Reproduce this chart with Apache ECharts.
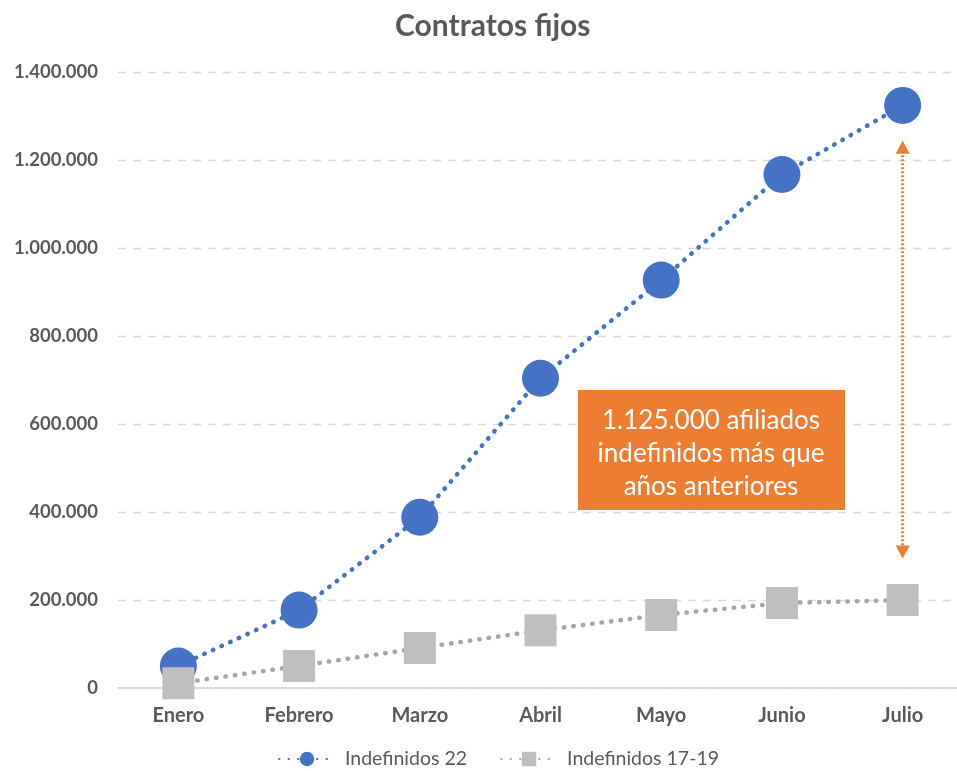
<!DOCTYPE html>
<html>
<head>
<meta charset="utf-8">
<script src="https://cdn.jsdelivr.net/npm/echarts@6/dist/echarts.min.js"></script>
<style>html,body{margin:0;padding:0;background:#fff;}#c{width:957px;height:771px;}</style>
</head>
<body>
<div id="c"></div>
<script>
const categories = ['Enero', 'Febrero', 'Marzo', 'Abril', 'Mayo', 'Junio', 'Julio'];
const indefinidos22 = [50000, 177000, 388000, 704000, 927000, 1167000, 1324000];
const indefinidos1719 = [11000, 50000, 91000, 131000, 166000, 193000, 200000];
const yTicks = [0, 200000, 400000, 600000, 800000, 1000000, 1200000, 1400000];
const arrowFrom = 1229000;
const arrowTo = 309000;
const noteLines = ['1.125.000 afiliados', 'indefinidos más que', 'años anteriores'];

const fmt = v => String(v).replace(/\B(?=(\d{3})+(?!\d))/g, '.');
const font = 'Lato, "Open Sans", sans-serif';
const chart = echarts.init(document.getElementById('c'));
chart.setOption({
  animation: false,
  backgroundColor: '#ffffff',
  title: {
    text: 'Contratos fijos', left: 390, top: 6,
    textStyle: { fontFamily: font, fontSize: 30, fontWeight: 'bold', color: '#595959' }
  },
  legend: {
    bottom: -3, left: 273, itemWidth: 56, itemHeight: 18, itemGap: 33,
    textStyle: { fontFamily: font, fontSize: 19.5, color: '#595959', padding: [0, 0, 0, 5] },
    data: ['Indefinidos 22', 'Indefinidos 17-19']
  },
  grid: { left: 118, width: 845, top: 72, bottom: 83, outerBoundsMode: 'none', containLabel: false },
  xAxis: {
    type: 'category', data: categories, boundaryGap: true,
    axisLine: { lineStyle: { color: '#d9d9d9', width: 2 } },
    axisTick: { show: false },
    axisLabel: { fontFamily: font, fontSize: 20, fontWeight: 'bold', color: '#595959', margin: 18 }
  },
  yAxis: {
    type: 'value', min: yTicks[0], max: yTicks[yTicks.length - 1], interval: yTicks[1] - yTicks[0],
    axisLine: { show: false }, axisTick: { show: false },
    axisLabel: { fontFamily: font, fontSize: 18.5, fontWeight: 'bold', color: '#595959', margin: 20, formatter: fmt },
    splitLine: { lineStyle: { color: '#d9d9d9', type: [8, 7], width: 1.3 } }
  },
  series: [
    {
      name: 'Indefinidos 22', type: 'line', data: indefinidos22,
      symbol: 'circle', symbolSize: 37,
      itemStyle: { color: '#4472C4' },
      lineStyle: { color: '#4472C4', width: 4.5, type: [0.5, 9], cap: 'round' },
      z: 2,
      markLine: {
        silent: true, symbol: ['triangle', 'triangle'], symbolSize: [14, 13],
        label: { show: false },
        lineStyle: { color: '#ED7D31', width: 3, type: [2, 2] },
        data: [[{ coord: [categories[6], arrowFrom], symbolRotate: 0 }, { coord: [categories[6], arrowTo], symbolRotate: 180 }]]
      }
    },
    {
      name: 'Indefinidos 17-19', type: 'line', data: indefinidos1719,
      symbol: 'rect', symbolSize: 32,
      itemStyle: { color: '#BFBFBF' },
      lineStyle: { color: '#A5A5A5', width: 4.5, type: [0.5, 9], cap: 'round' },
      z: 3
    }
  ],
  graphic: [
    {
      type: 'rect', x: 578, y: 390, shape: { width: 267, height: 120 },
      style: { fill: '#ED7D31' }, z: 10
    },
    {
      type: 'text', x: 711, y: 404, z: 11,
      style: {
        text: noteLines.join('\n'), fill: '#ffffff', fontFamily: font, fontSize: 26,
        lineHeight: 33, align: 'center', verticalAlign: 'top'
      }
    }
  ]
});
</script>
</body>
</html>
